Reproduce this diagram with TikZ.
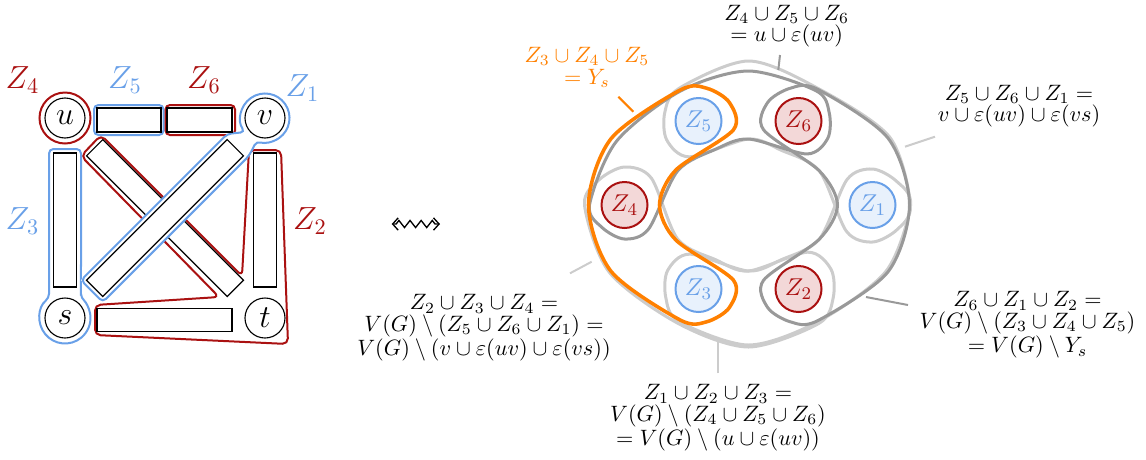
\documentclass[tikz,border=0pt]{standalone}
\usepackage{amsmath,amssymb}
\usetikzlibrary{calc,decorations.pathmorphing,arrows.meta}
\definecolor{redZ}{RGB}{170,17,17}
\definecolor{blueZ}{RGB}{105,160,232}
\definecolor{orangeZ}{RGB}{255,128,0}
\definecolor{fillB}{RGB}{232,241,252}
\definecolor{fillR}{RGB}{243,216,216}
\colorlet{lgray}{black!20}
\colorlet{dgray}{black!40}
% crescent: a b c style Ro Rmo Ri Rmi Rc  (pixel units)
\newcommand\crescent[9]{%
 \coordinate (cab) at ($(#1.center)!0.5!(#2.center)$);
 \coordinate (cbc) at ($(#2.center)!0.5!(#3.center)$);
 \coordinate (k2) at ($(#1.center)!#9*0.45pt!-45:(O)$);
 \coordinate (k3) at ($(#1.center)!#9*0.45pt!-90:(O)$);
 \coordinate (k4) at ($(#1.center)!#9*0.45pt-1pt!-135:(O)$);
 \coordinate (k5) at ($(#1.center)!#5*0.45pt!180:(O)$);
 \coordinate (k6) at ($(cab)!-#6*0.45pt!(O)$);
 \coordinate (k7) at ($(#2.center)!-#5*0.45pt!(O)$);
 \coordinate (k8) at ($(cbc)!-#6*0.45pt!(O)$);
 \coordinate (k9) at ($(#3.center)!#5*0.45pt!180:(O)$);
 \coordinate (k10) at ($(#3.center)!#9*0.45pt-1pt!135:(O)$);
 \coordinate (k11) at ($(#3.center)!#9*0.45pt!90:(O)$);
 \coordinate (k12) at ($(#3.center)!#9*0.45pt!45:(O)$);
 \coordinate (k14) at ($(cbc)!#8*0.45pt!(O)$);
 \coordinate (k15) at ($(#2.center)!#7*0.45pt!(O)$);
 \coordinate (k16) at ($(cab)!#8*0.45pt!(O)$);
 \draw[#4] plot[smooth cycle, tension=0.5] coordinates {(k2)(k3)(k4)(k5)(k6)(k7)(k8)(k9)(k10)(k11)(k12)(k14)(k15)(k16)};
}
\begin{document}
\begin{tikzpicture}[x=0.45pt,y=-0.45pt,
  vert/.style={circle, draw, line width=0.5pt, fill=white, minimum size=18pt, inner sep=0pt, font=\fontsize{14.4}{17}\selectfont},
  edgebox/.style={draw, line width=0.5pt, fill=white, inner sep=0pt},
  zlab/.style={font=\fontsize{14.4}{17}\selectfont, inner sep=0pt},
  outl/.style={line width=0.9pt},
  zc/.style={circle, line width=0.9pt, minimum size=20.7pt, inner sep=0pt, font=\fontsize{10.95}{13}\selectfont},
  lab/.style={align=center, font=\fontsize{10}{9.7}\selectfont, inner sep=0pt},
  leader/.style={line width=0.9pt},
  crest/.style={line width=1.35pt}]
\useasboundingbox (0,0) rectangle (1146,459);

% ---------------- left graph ----------------
\coordinate (u) at (65,118);
\coordinate (v) at (265,118);
\coordinate (s) at (65,318);
\coordinate (t) at (265,318);

% Z2 region (red)
\draw[redZ, outl, rounded corners=2.5pt] (249,150) -- (281,150) -- (288,344) -- (95,335) -- (95,305) -- (219,297) -- (81,156) -- (101,135) -- (242,276) -- cycle;
% Z3 region (blue)
\draw[blueZ, outl, rounded corners=2pt] ($(s)+(51.14:11.475pt)$) -- (81,149) -- (49,149) -- ($(s)+(128.86:11.475pt)$) arc[start angle=128.86, end angle=411.14, radius=11.475pt] -- cycle;
% Z4, Z5, Z6
\draw[redZ, outl] (u) circle[radius=11.475pt];
\draw[blueZ, outl, rounded corners=2pt] (94,105) rectangle (163.5,135);
\draw[redZ, outl, rounded corners=2pt] (165.5,105) rectangle (235,135);

% edge boxes
\node[edgebox, rotate=-45, minimum width=89.55pt, minimum height=10.35pt] (eut) at (165,218) {};
% Z1 region (blue) around v and the edge vs
\node[rotate=45, minimum width=92.7pt, minimum height=13.5pt, inner sep=0pt] (vsO) at (165,218) {};
\fill[white] (vsO.north west) -- (vsO.north east) -- ($(v)+(215:11.03pt)$) arc[start angle=215, end angle=-110, radius=11.03pt] -- (vsO.south east) -- (vsO.south west) -- cycle;
\draw[blueZ, outl, rounded corners=2pt] (vsO.north west) -- (vsO.north east) -- ($(v)+(215:11.03pt)$) arc[start angle=215, end angle=-110, radius=11.03pt] -- (vsO.south east) -- (vsO.south west) -- cycle;
\node[edgebox, rotate=45, minimum width=89.55pt, minimum height=10.35pt] (evs) at (165,218) {};
\node[edgebox, minimum width=28.8pt, minimum height=10.8pt] (euv1) at (129,120) {};
\node[edgebox, minimum width=29.25pt, minimum height=10.8pt] (euv2) at (199.5,120) {};
\node[edgebox, minimum width=10.35pt, minimum height=60.3pt] (eus) at (65,220) {};
\node[edgebox, minimum width=10.35pt, minimum height=60.3pt] (evt) at (265,220) {};
\node[edgebox, minimum width=60.75pt, minimum height=10.35pt] (est) at (164.5,320) {};

\node[vert] (nu) at (u) {$u$};
\node[vert] (nv) at (v) {$v$};
\node[vert] (ns) at (s) {$s$};
\node[vert] (nt) at (t) {$t$};

\node[zlab, text=redZ] (lZ4) at (22.5,80) {$Z_4$};
\node[zlab, text=blueZ] (lZ5) at (125,80) {$Z_5$};
\node[zlab, text=redZ] (lZ6) at (204,80) {$Z_6$};
\node[zlab, text=blueZ] (lZ1) at (302.5,88) {$Z_1$};
\node[zlab, text=blueZ] (lZ3) at (22.5,221) {$Z_3$};
\node[zlab, text=redZ] (lZ2) at (310,221) {$Z_2$};

% squiggly arrow
\coordinate (sqa) at (391.7,224);
\coordinate (sqb) at (440,224);
\draw[line width=0.6pt, decorate, decoration={zigzag, amplitude=1.6pt, segment length=5pt, pre length=2pt, post length=2pt}, {Straight Barb[length=2.5pt,width=5.5pt]}-{Straight Barb[length=2.5pt,width=5.5pt]}] (sqa) -- (sqb);

% ---------------- right diagram ----------------
\coordinate (O) at (748.5,205);
\node[zc, draw=blueZ, fill=fillB, text=blueZ] (Z5) at (698.5,121) {$Z_5$};
\node[zc, draw=redZ, fill=fillR, text=redZ] (Z6) at (798.5,121) {$Z_6$};
\node[zc, draw=redZ, fill=fillR, text=redZ] (Z4) at (624.5,205) {$Z_4$};
\node[zc, draw=blueZ, fill=fillB, text=blueZ] (Z1) at (872.5,205) {$Z_1$};
\node[zc, draw=blueZ, fill=fillB, text=blueZ] (Z3) at (698.5,289) {$Z_3$};
\node[zc, draw=redZ, fill=fillR, text=redZ] (Z2) at (798.5,289) {$Z_2$};

\crescent{Z5}{Z6}{Z1}{crest,lgray}{38}{60}{34}{18}{37}
\crescent{Z1}{Z2}{Z3}{crest,lgray}{38}{56}{34}{18}{36}
\crescent{Z2}{Z3}{Z4}{crest,lgray}{40}{58}{34}{18}{38}
\crescent{Z4}{Z5}{Z6}{crest,dgray}{35}{50}{33}{18}{34}
\crescent{Z6}{Z1}{Z2}{crest,dgray}{37}{58}{35}{18}{36}
\crescent{Z3}{Z4}{Z5}{crest,orangeZ,line width=1.6pt}{36}{56}{35}{16}{36}

% leaders
\coordinate (a1) at (780,55);   \coordinate (b1) at (778.3,70);
\coordinate (a2) at (618.3,96.7); \coordinate (b2) at (633.3,111.7);
\coordinate (a3) at (935,136.7); \coordinate (b3) at (905,146.7);
\coordinate (a4) at (908,305);  \coordinate (b4) at (866,297);
\coordinate (a5) at (718.3,373.3); \coordinate (b5) at (718.3,337);
\coordinate (a6) at (570,273.3); \coordinate (b6) at (591.7,261.7);
\draw[leader, dgray] (a1) -- (b1);
\draw[leader, orangeZ] (a2) -- (b2);
\draw[leader, lgray] (a3) -- (b3);
\draw[leader, dgray] (a4) -- (b4);
\draw[leader, lgray] (a5) -- (b5);
\draw[leader, lgray] (a6) -- (b6);

% labels
\node[lab] (L456) at (786.7,26) {$Z_4\cup Z_5\cup Z_6$\\$=u\cup\varepsilon(uv)$};
\node[lab, text=orangeZ] (L345) at (587,67.5) {$Z_3\cup Z_4\cup Z_5$\\$=Y_s$};
\node[lab] (L561) at (1019,106) {$Z_5\cup Z_6\cup Z_1 =$\\$v\cup\varepsilon(uv)\cup\varepsilon(vs)$};
\node[lab] (L234) at (484,328) {$Z_2\cup Z_3\cup Z_4 =$\\$V(G)\setminus(Z_5\cup Z_6\cup Z_1) =$\\$V(G)\setminus(v\cup\varepsilon(uv)\cup\varepsilon(vs))$};
\node[lab] (L123) at (718,418) {$Z_1\cup Z_2\cup Z_3 =$\\$V(G)\setminus(Z_4\cup Z_5\cup Z_6)$\\$= V(G)\setminus(u\cup\varepsilon(uv))$};
\node[lab] (L612) at (1027.5,325) {$Z_6\cup Z_1\cup Z_2 =$\\$V(G)\setminus(Z_3\cup Z_4\cup Z_5)$\\$= V(G)\setminus Y_s$};
\end{tikzpicture}
\end{document}
